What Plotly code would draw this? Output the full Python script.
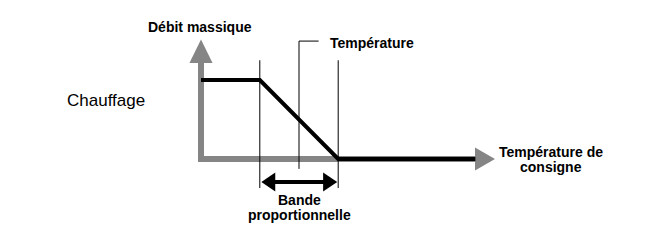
import plotly.graph_objects as go

# --- data (diagram units: temperature on x, mass flow on y) ---
heating_x = [0, 3, 7, 14]          # flat heating, proportional band, zero flow
heating_y = [4, 4, 0, 0]
band_start, band_end = 3, 7
band_lines_y = [5, -1.47]
setpoint_leader_x = [6, 5, 5]
setpoint_leader_y = [5.97, 5.97, -0.5]
axis_x = [0, 0, 14]
axis_y = [4.86, 0, 0]
yhead_x = [-0.59, 0, 0.59, -0.59]
yhead_y = [4.86, 6.05, 4.86, 4.86]
xhead_x = [13.98, 15.0, 13.98, 13.98]
xhead_y = [0.58, 0, -0.58, 0.58]
band_arrow_y = -1.165
band_arrow_shaft_x = [3.6, 6.4]
lhead_x = [3.08, 3.79, 3.79, 3.08]
lhead_y = [-1.165, -0.685, -1.645, -1.165]
rhead_x = [6.95, 6.23, 6.23, 6.95]
rhead_y = [-1.165, -0.685, -1.645, -1.165]

labels = {
    "Débit massique": (-0.05, 6.68, 14, True, "center"),
    "Température": (6.48, 5.87, 14, True, "left"),
    "Chauffage": (-4.87, 2.94, 17, False, "center"),
    "Température de": (17.86, 0.38, 14, True, "center"),
    "consigne": (17.86, -0.41, 14, True, "center"),
    "Bande": (5.05, -2.08, 14, True, "center"),
    "proportionnelle": (5.05, -2.86, 14, True, "center"),
}

GRAY = "#858585"
fig = go.Figure()
fig.add_trace(go.Scatter(x=axis_x, y=axis_y, mode="lines",
                         line=dict(color=GRAY, width=6)))
fig.add_trace(go.Scatter(x=yhead_x, y=yhead_y, mode="lines", fill="toself",
                         fillcolor=GRAY, line=dict(width=0, color=GRAY)))
fig.add_trace(go.Scatter(x=xhead_x, y=xhead_y, mode="lines", fill="toself",
                         fillcolor=GRAY, line=dict(width=0, color=GRAY)))
for bx in (band_start, band_end):
    fig.add_trace(go.Scatter(x=[bx, bx], y=band_lines_y, mode="lines",
                             line=dict(color="black", width=1)))
fig.add_trace(go.Scatter(x=setpoint_leader_x, y=setpoint_leader_y, mode="lines",
                         line=dict(color="black", width=1)))
fig.add_trace(go.Scatter(x=heating_x, y=heating_y, mode="lines",
                         line=dict(color="black", width=4)))
fig.add_trace(go.Scatter(x=band_arrow_shaft_x, y=[band_arrow_y] * 2, mode="lines",
                         line=dict(color="black", width=4)))
for hx, hy in ((lhead_x, lhead_y), (rhead_x, rhead_y)):
    fig.add_trace(go.Scatter(x=hx, y=hy, mode="lines", fill="toself",
                             fillcolor="black", line=dict(width=0, color="black")))

for text, (x, y, size, bold, anchor) in labels.items():
    fig.add_annotation(x=x, y=y, text=f"<b>{text}</b>" if bold else text,
                       showarrow=False, xanchor=anchor, yanchor="middle",
                       font=dict(family="Liberation Sans, Arial, sans-serif",
                                 size=size, color="black"))

fig.update_layout(
    width=669, height=245, margin=dict(l=0, r=0, t=0, b=0),
    paper_bgcolor="white", plot_bgcolor="white", showlegend=False,
    xaxis=dict(range=[-201 / 19.6, 468 / 19.6], visible=False, fixedrange=True),
    yaxis=dict(range=[(159 - 245) / 19.75, 159 / 19.75], visible=False, fixedrange=True),
)
fig.write_html("out.html", config={"displayModeBar": False})
